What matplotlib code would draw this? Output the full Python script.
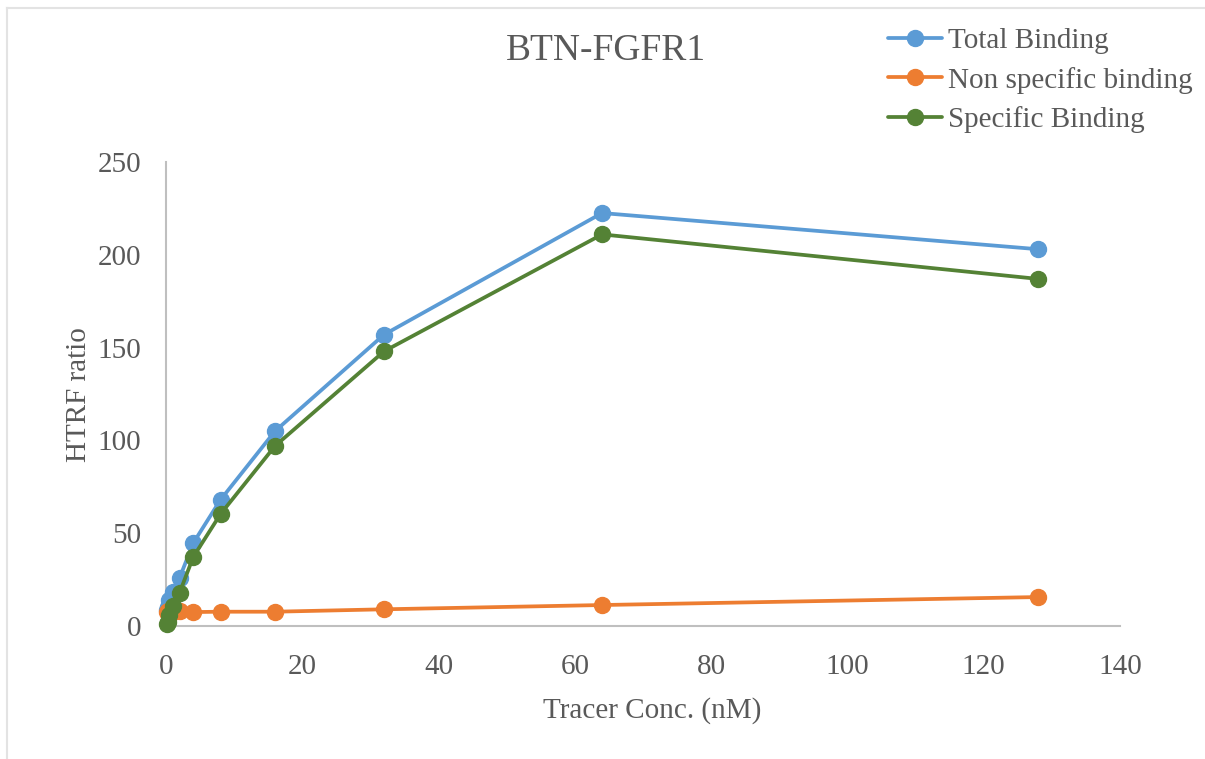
import matplotlib
matplotlib.use("Agg")
import matplotlib.pyplot as plt
from matplotlib.lines import Line2D

conc = [0.125, 0.25, 0.5, 1, 2, 4, 8, 16, 32, 64, 128]
total = [8.5, 10, 14, 18.3, 26, 44.7, 68, 105, 157, 222.5, 203]
nonspecific = [7.5, 8, 8, 7.5, 8, 7.5, 7.7, 7.7, 9, 11.3, 15.6]
specific = [1, 2, 6, 10.8, 18, 37.2, 60.3, 97, 148, 211, 187]

series_names = ["Total Binding", "Non specific binding", "Specific Binding"]
colors = ["#5B9BD5", "#ED7D31", "#548235"]

plt.rcParams['font.family'] = ['Liberation Serif', 'DejaVu Serif']

fig = plt.figure(figsize=(12.05, 7.59), dpi=100)
ax = fig.add_axes([166/1205, 1-626/759, (1120-166)/1205, (626-162)/759])

for vals, name, c in zip([total, nonspecific, specific], series_names, colors):
    ax.plot(conc, vals, color=c, lw=2.7, marker='o', markersize=11.5, label=name,
            solid_capstyle='round', clip_on=False, zorder=3)

ax.set_xlim(0, 140)
ax.set_ylim(0, 250)
ax.set_xticks(range(0, 141, 20))
ax.set_yticks(range(0, 251, 50))
for s in ['top', 'right']:
    ax.spines[s].set_visible(False)
for s in ['left', 'bottom']:
    ax.spines[s].set_color('#BFBFBF')
    ax.spines[s].set_linewidth(1.5)
    ax.spines[s].set_zorder(1)
ax.tick_params(axis='both', length=0, labelsize=21, labelcolor='#595959')
ax.tick_params(axis='y', pad=18)
ax.tick_params(axis='x', pad=20)

fig.text(79/1205, 1-395/759, "HTRF ratio", rotation=90, ha='center', va='center',
         fontsize=21, color='#595959')
fig.text(652/1205, 1-711/759, "Tracer Conc. (nM)", ha='center', va='center',
         fontsize=21, color='#595959')
fig.text(606/1205, 1-51/759, "BTN-FGFR1", ha='center', va='center',
         fontsize=27, color='#595959')

leg = fig.legend(loc='upper left', bbox_to_anchor=(888/1205, 1-28/759), frameon=False,
                 fontsize=21, handlelength=1.85, handletextpad=0.2, labelspacing=0.42,
                 borderaxespad=0, borderpad=0)
for t in leg.get_texts():
    t.set_color('#595959')

fig.add_artist(Line2D([7/1205, 1], [1-7.5/759, 1-7.5/759], color='#E3E3E3', lw=1.5,
                      transform=fig.transFigure))
fig.add_artist(Line2D([7/1205, 7/1205], [0, 1-7.5/759], color='#E3E3E3', lw=1.5,
                      transform=fig.transFigure))

fig.savefig("out.png", dpi=100)
